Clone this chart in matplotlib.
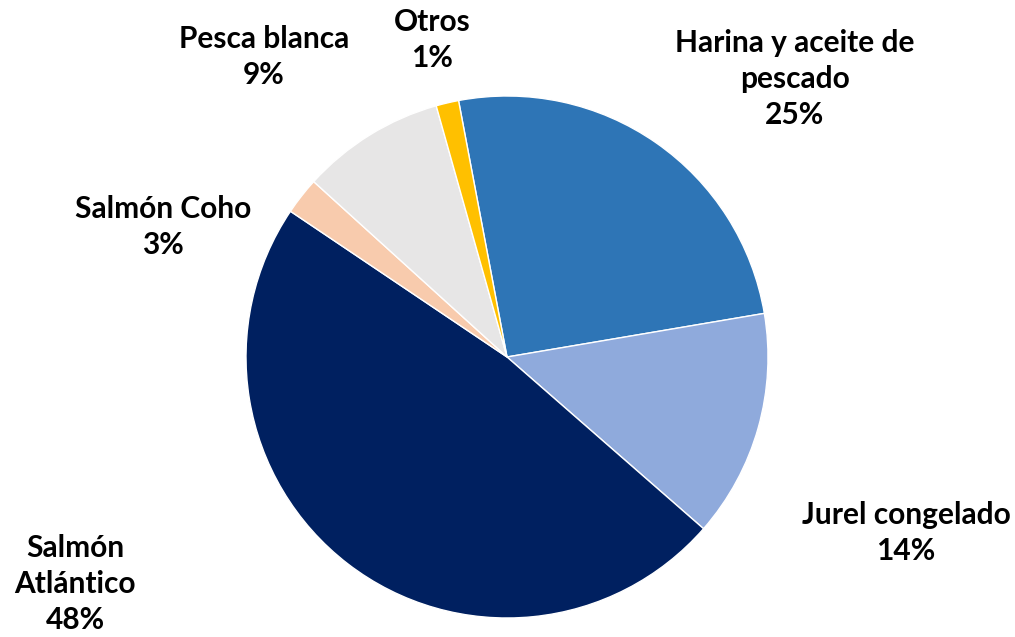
import matplotlib.pyplot as plt

categories = ["Harina y aceite de\npescado", "Jurel congelado", "Salmón\nAtlántico",
              "Salmón Coho", "Pesca blanca", "Otros"]
shares = [25.3, 14.1, 48.0, 2.3, 8.9, 1.4]
pct_labels = ["25%", "14%", "48%", "3%", "9%", "1%"]
colors = ["#2E75B6", "#8FAADC", "#002060", "#F8CBAD", "#E7E6E6", "#FFC000"]

# label centres in pixels of the original picture
label_px = [(795, 79), (906, 533), (75, 584), (163, 227), (264, 57), (432, 40)]
cx, cy, r = 507, 357, 261

fig = plt.figure(figsize=(10.15, 6.37), dpi=100)
ax = fig.add_axes([0, 0, 1, 1])
ax.pie(shares, colors=colors, startangle=100.7, counterclock=False,
       radius=1, wedgeprops=dict(edgecolor="white", linewidth=1))
ax.set_xlim(-cx / r, (1015 - cx) / r)
ax.set_ylim(-(637 - cy) / r, cy / r)
ax.set_aspect("equal")
ax.axis("off")

for name, pct, (px, py) in zip(categories, pct_labels, label_px):
    ax.text((px - cx) / r, (cy - py) / r, name + "\n" + pct, ha="center", va="center",
            fontsize=21.5, fontweight="bold", family="Lato", linespacing=1.35)

fig.savefig("out.png", dpi=100)
